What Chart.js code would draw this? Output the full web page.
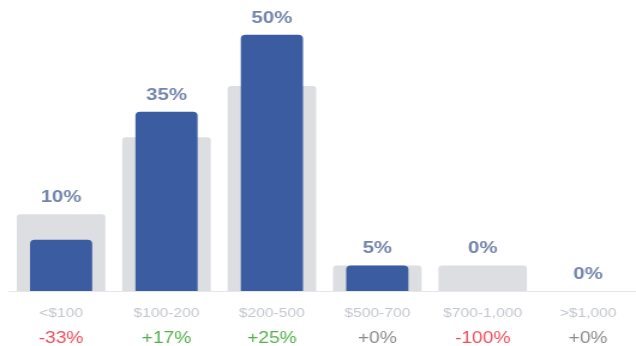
<!DOCTYPE html>
<html>
<head>
<meta charset="utf-8">
<script src="https://cdn.jsdelivr.net/npm/chart.js@4.4.1/dist/chart.umd.min.js"></script>
<style>
  html, body { margin: 0; padding: 0; background: #fff; overflow: hidden; }
  /* the chart is laid out narrow and stretched sideways to the wide strip */
  #wrap { position: relative; width: 534px; height: 346px; transform: scaleX(1.2); transform-origin: 0 0; }
</style>
</head>
<body>
<div id="wrap"><canvas id="spend-chart"></canvas></div>
<script>
// price buckets and share of purchases, this period vs last period
const buckets = ['<$100', '$100-200', '$200-500', '$500-700', '$700-1,000', '>$1,000'];
const currentShare = [10, 35, 50, 5, 0, 0];
const previousShare = [15, 30, 40, 5, 5, 0];
const changeLabels = ['-33%', '+17%', '+25%', '+0%', '-100%', '+0%'];

const BLUE = '#3b5ca1';
const GREY = '#dcdee2';
const FONT = '"Liberation Sans", Arial, Helvetica, sans-serif';

function changeColor(label) {
  if (label === '+0%' || label === '-0%') return '#8c8c8c';
  return label.startsWith('-') ? '#ef4f5a' : '#52b14a';
}

// share % printed above the taller of the two bars
const valueLabels = {
  id: 'valueLabels',
  afterDatasetsDraw(chart) {
    const { ctx, scales: { x, y } } = chart;
    ctx.save();
    ctx.font = 'bold 17px ' + FONT;
    ctx.fillStyle = '#7385aa';
    ctx.textAlign = 'center';
    ctx.textBaseline = 'alphabetic';
    currentShare.forEach((v, i) => {
      const top = y.getPixelForValue(Math.max(v, previousShare[i]));
      ctx.fillText(v + '%', x.getPixelForValue(i), top - 12);
    });
    ctx.restore();
  }
};

new Chart(document.getElementById('spend-chart'), {
  type: 'bar',
  data: {
    labels: buckets,
    datasets: [
      {
        label: 'This period',
        data: currentShare,
        backgroundColor: BLUE,
        borderRadius: { topLeft: 4, topRight: 4 },
        borderSkipped: 'bottom',
        barPercentage: 0.59,
        categoryPercentage: 1,
        grouped: false
      },
      {
        label: 'Last period',
        data: previousShare,
        backgroundColor: GREY,
        borderRadius: { topLeft: 3, topRight: 3 },
        borderSkipped: 'bottom',
        barPercentage: 0.84,
        categoryPercentage: 1,
        grouped: false
      }
    ]
  },
  options: {
    responsive: true,
    maintainAspectRatio: false,
    animation: false,
    layout: { padding: { left: 7, right: 0, top: 0, bottom: 0 } },
    plugins: { legend: { display: false }, tooltip: { enabled: false } },
    scales: {
      x: {
        weight: 0,
        grid: { display: false, drawTicks: false },
        border: { display: true, color: '#e6e7ea', width: 1 },
        ticks: { color: '#c4c7cd', padding: 15, font: { family: FONT, size: 13 } },
        afterFit: (s) => { s.height = 30; }
      },
      change: {
        type: 'category',
        position: 'bottom',
        weight: 1,
        labels: changeLabels,
        grid: { display: false, drawTicks: false },
        border: { display: false },
        ticks: {
          padding: 8,
          font: { family: FONT, size: 16 },
          color: (c) => changeColor(changeLabels[c.index])
        },
        afterFit: (s) => { s.height = 25; }
      },
      y: {
        display: false,
        min: 0,
        max: 56.8
      }
    }
  },
  plugins: [valueLabels]
});
</script>
</body>
</html>
